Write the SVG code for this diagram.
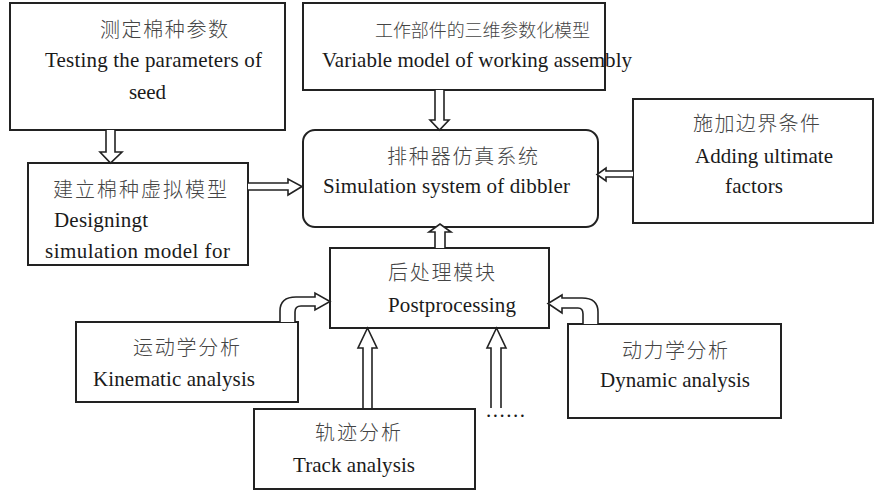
<svg xmlns="http://www.w3.org/2000/svg" width="884" height="497" viewBox="0 0 884 497">
<style>
.box{fill:#fff;stroke:#222;stroke-width:2}
.arr{fill:#fff;stroke:#222;stroke-width:1.6;stroke-linejoin:miter}
.en{font-family:"Liberation Serif","Times New Roman",serif;font-size:21px;fill:#1a1a1a}
.zh{font-family:"Liberation Serif","Noto Sans CJK SC",sans-serif;font-size:20px;fill:#444;font-weight:300}
.zs{font-size:18px}
</style>
<rect width="884" height="497" fill="#fff"/>
<g id="n-testing">
<rect class="box" x="10" y="3" width="275" height="127"/>
<text class="zh" x="100" y="37" textLength="128" lengthAdjust="spacing">测定棉种参数</text>
<text class="en" x="45" y="67" textLength="217" lengthAdjust="spacing">Testing the parameters of</text>
<text class="en" x="129" y="99" textLength="37" lengthAdjust="spacing">seed</text>
</g>
<g id="n-designing">
<rect class="box" x="28" y="163" width="220" height="102"/>
<text class="zh" x="53" y="197" textLength="174" lengthAdjust="spacing">建立棉种虚拟模型</text>
<text class="en" x="54" y="227" textLength="94" lengthAdjust="spacing">Designingt</text>
<text class="en" x="45" y="258" textLength="185" lengthAdjust="spacing">simulation model for</text>
</g>
<g id="n-variable">
<rect class="box" x="303" y="3" width="302" height="87"/>
<text class="zh zs" x="375" y="37" textLength="215" lengthAdjust="spacing">工作部件的三维参数化模型</text>
<text class="en" x="322" y="67" textLength="310" lengthAdjust="spacing">Variable model of working assembly</text>
</g>
<g id="n-sim">
<rect class="box" x="303" y="130" width="295" height="97" rx="12" ry="12"/>
<text class="zh" x="387" y="164" textLength="151" lengthAdjust="spacing">排种器仿真系统</text>
<text class="en" x="323" y="193" textLength="247" lengthAdjust="spacing">Simulation system of dibbler</text>
</g>
<g id="n-adding">
<rect class="box" x="633" y="99" width="240" height="124"/>
<text class="zh" x="693" y="131" textLength="127" lengthAdjust="spacing">施加边界条件</text>
<text class="en" x="695" y="163" textLength="138" lengthAdjust="spacing">Adding ultimate</text>
<text class="en" x="725" y="193" textLength="58" lengthAdjust="spacing">factors</text>
</g>
<g id="n-post">
<rect class="box" x="330" y="248" width="219" height="80"/>
<text class="zh" x="388" y="280" textLength="107" lengthAdjust="spacing">后处理模块</text>
<text class="en" x="388" y="312" textLength="128" lengthAdjust="spacing">Postprocessing</text>
</g>
<g id="n-kinematic">
<rect class="box" x="76" y="322" width="222" height="80"/>
<text class="zh" x="133" y="355" textLength="107" lengthAdjust="spacing">运动学分析</text>
<text class="en" x="93" y="386" textLength="162" lengthAdjust="spacing">Kinematic analysis</text>
</g>
<g id="n-track">
<rect class="box" x="254" y="409" width="221" height="80"/>
<text class="zh" x="315" y="440" textLength="86" lengthAdjust="spacing">轨迹分析</text>
<text class="en" x="293" y="472" textLength="122" lengthAdjust="spacing">Track analysis</text>
</g>
<g id="n-dynamic">
<rect class="box" x="568" y="324" width="213" height="94"/>
<text class="zh" x="622" y="358" textLength="106" lengthAdjust="spacing">动力学分析</text>
<text class="en" x="600" y="387" textLength="150" lengthAdjust="spacing">Dynamic analysis</text>
</g>
<g id="connectors">
<path class="arr" d="M106,130 V152 H100 L110.5,163 L122,152 H115 V130"/>
<path class="arr" d="M248,183 H288 V179 L302,186.5 L288,195 V190 H248"/>
<path class="arr" d="M435,90 V120 H430 L439.5,130 L449,120 H444 V90"/>
<path class="arr" d="M633,171 H606 V168 L597,174.5 L606,181 V177 H633"/>
<path class="arr" d="M435,248 V232 H429 L440,224 L451,232 H445 V248"/>
<path class="arr" d="M280,322 V311 Q280,297 296,297 H315 V293 L330,301.5 L315,310 V306 H301 Q295,306 295,312 V322"/>
<path class="arr" d="M598,324 V312 Q598,298 582,298 H562 V295 L548,303.5 L562,313 V308 H578 Q583,308 583,314 V324"/>
<path class="arr" d="M363,408 V348 H358 L367.5,328 L377,348 H372 V408"/>
<path class="arr" d="M491,408 V348 H487 L496.5,328 L506,348 H501 V408"/>
<text class="en" x="486" y="417" textLength="39" lengthAdjust="spacing">......</text>
</g>
</svg>
